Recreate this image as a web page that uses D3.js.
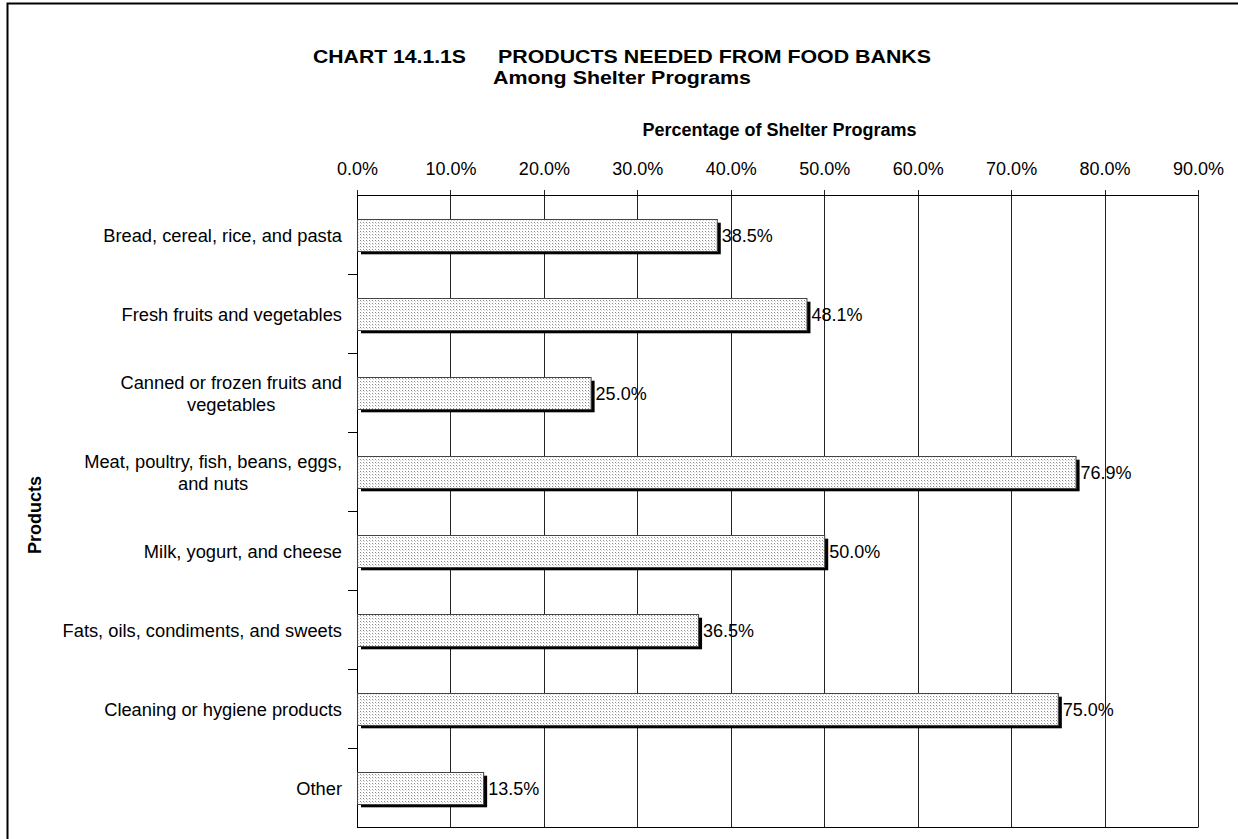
<!DOCTYPE html>
<html><head><meta charset="utf-8">
<script src="https://cdn.jsdelivr.net/npm/d3@7"></script>
<style>body{margin:0;background:#fff}text{font-family:Arial,"Liberation Sans",sans-serif}</style>
</head><body><svg id="c" width="1238" height="839"></svg>
<script>
const categories = [
  ["Bread, cereal, rice, and pasta"],
  ["Fresh fruits and vegetables"],
  ["Canned or frozen fruits and", "vegetables"],
  ["Meat, poultry, fish, beans, eggs,", "and nuts"],
  ["Milk, yogurt, and cheese"],
  ["Fats, oils, condiments, and sweets"],
  ["Cleaning or hygiene products"],
  ["Other"]
];
const values = [38.5, 48.1, 25.0, 76.9, 50.0, 36.5, 75.0, 13.5];
const xTicks = [0,10,20,30,40,50,60,70,80,90];
const titleChart = "CHART 14.1.1S";
const titleLine1 = "PRODUCTS NEEDED FROM FOOD BANKS";
const titleLine2 = "Among Shelter Programs";
const xTitle = "Percentage of Shelter Programs";
const yTitle = "Products";

const svg = d3.select("#c");
const L = 357, R = 1198, T = 195, B = 827;
const x = d3.scaleLinear().domain([0, 90]).range([L, R]);
const y = d3.scaleBand().domain(d3.range(categories.length)).range([T, B]).paddingInner(0.6).paddingOuter(0.3);
const band = d3.scaleBand().domain(d3.range(categories.length)).range([T, B]);

// pattern
const defs = svg.append("defs");
const pat = defs.append("pattern").attr("id","dots").attr("width",3).attr("height",3).attr("patternUnits","userSpaceOnUse");
pat.append("rect").attr("width",3).attr("height",3).attr("fill","#fff");
pat.append("rect").attr("x",0).attr("y",0).attr("width",1).attr("height",1).attr("fill","#8a8a8a");
pat.append("rect").attr("x",1).attr("y",1).attr("width",1).attr("height",1).attr("fill","#d0d0d0");

// frame
svg.append("rect").attr("x",7.5).attr("y",3.5).attr("width",1240).attr("height",850)
  .attr("fill","none").attr("stroke","#000").attr("stroke-width",2);

// titles (stretched horizontally like the reference)
function stretched(txt, x0, y0, len){
  svg.append("text").attr("x",x0).attr("y",y0).attr("font-size","18px").attr("font-weight","bold")
    .attr("textLength",len).attr("lengthAdjust","spacingAndGlyphs").text(txt);
}
stretched(titleChart, 313, 63, 153);
stretched(titleLine1, 498, 63, 433);
stretched(titleLine2, 493, 84, 258);
svg.append("text").attr("x",(L+R)/2+2).attr("y",136).attr("text-anchor","middle").attr("font-size","18px").attr("font-weight","bold").text(xTitle);
svg.append("text").attr("transform",`translate(41,515) rotate(-90)`).attr("text-anchor","middle").attr("font-size","18px").attr("font-weight","bold").text(yTitle);

// grid
svg.append("g").selectAll("line").data(xTicks).join("line")
  .attr("x1",d=>Math.round(x(d))+0.5).attr("x2",d=>Math.round(x(d))+0.5)
  .attr("y1",T-5).attr("y2",B).attr("stroke","#222").attr("stroke-width",1);
svg.append("line").attr("x1",L).attr("x2",R+0.5).attr("y1",T+0.5).attr("y2",T+0.5).attr("stroke","#000");
svg.append("line").attr("x1",L).attr("x2",R+0.5).attr("y1",B+0.5).attr("y2",B+0.5).attr("stroke","#000");
// top axis labels
const xa = svg.append("g").attr("transform",`translate(0,${T})`).call(d3.axisTop(x).tickValues(xTicks).tickFormat(d=>d.toFixed(1)+"%").tickSize(0).tickPadding(20));
xa.select(".domain").remove();
xa.selectAll("text").attr("font-size","18px").attr("font-family","Arial, 'Liberation Sans', sans-serif").attr("fill","#000");

// left axis
svg.append("line").attr("x1",L+0.5).attr("x2",L+0.5).attr("y1",T).attr("y2",B+1).attr("stroke","#000");
svg.append("g").selectAll("line").data(d3.range(1,categories.length)).join("line")
  .attr("x1",L-9).attr("x2",L).attr("y1",d=>Math.round(band(d))+0.5).attr("y2",d=>Math.round(band(d))+0.5).attr("stroke","#000");

// bars: shadow then bar
const g = svg.append("g");
g.selectAll("rect.sh").data(values).join("rect").attr("class","sh")
  .attr("x",x(0)+4).attr("y",(d,i)=>y(i)+4).attr("width",d=>x(d)-x(0)).attr("height",y.bandwidth()).attr("fill","#000");
g.selectAll("rect.bar").data(values).join("rect").attr("class","bar")
  .attr("x",x(0)+0.5).attr("y",(d,i)=>Math.round(y(i))+0.5).attr("width",d=>x(d)-x(0)).attr("height",Math.round(y.bandwidth()))
  .attr("fill","url(#dots)").attr("stroke","#444").attr("stroke-width",1);

// value labels
g.selectAll("text.v").data(values).join("text").attr("class","v")
  .attr("x",d=>x(d)+5).attr("y",(d,i)=>band(i)+band.bandwidth()/2+7).attr("font-size","18px").text(d=>d.toFixed(1)+"%");

// category labels (multi-line centered, right edge at 342)
const cl = svg.append("g").selectAll("text").data(categories).join("text")
  .attr("font-size","18.3px")
  .attr("y",(d,i)=>band(i)+band.bandwidth()/2+7);
cl.each(function(d){
  const t = d3.select(this);
  const n = d.length;
  d.forEach((s,k)=>t.append("tspan").attr("dy", k===0 ? -(n-1)*11 : 22).text(s));
  const tspans = t.selectAll("tspan").nodes();
  const widths = tspans.map(s=>s.getComputedTextLength());
  const maxW = d3.max(widths);
  const cx = 342 - maxW/2;
  tspans.forEach(s=>d3.select(s).attr("x",cx).attr("text-anchor","middle"));
});
</script></body></html>
